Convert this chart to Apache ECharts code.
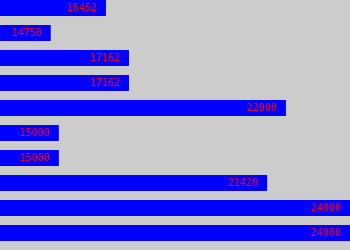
<!DOCTYPE html>
<html>
<head>
<meta charset="utf-8">
<script src="https://cdn.jsdelivr.net/npm/echarts@6/dist/echarts.min.js"></script>
<style>html,body{margin:0;padding:0;background:#cccccc;overflow:hidden;width:350px;height:250px;}#c{position:absolute;left:0;top:-5px;width:350px;height:260px;}</style>
</head>
<body>
<div id="c"></div>
<script>
const categories = ['1','2','3','4','5','6','7','8','9','10'];
const values = [16452, 14750, 17162, 17162, 22000, 15000, 15000, 21420, 24000, 24000];

const chart = echarts.init(document.getElementById('c'), null, {renderer: 'canvas'});
chart.setOption({
  animation: false,
  backgroundColor: '#cccccc',
  grid: {left: 0, right: 0, top: 0.5, height: 250, containLabel: false},
  xAxis: {type: 'value', min: 13186, max: 23975, show: false},
  yAxis: {type: 'category', data: categories, inverse: true, show: false},
  series: [{
    type: 'bar',
    data: values,
    barWidth: 16,
    itemStyle: {color: '#0000ff'},
    label: {
      show: true,
      position: 'insideRight',
      distance: 9,
      color: '#ff0000',
      fontFamily: 'DejaVu Sans Mono',
      fontSize: 10
    }
  }]
});
</script>
</body>
</html>
